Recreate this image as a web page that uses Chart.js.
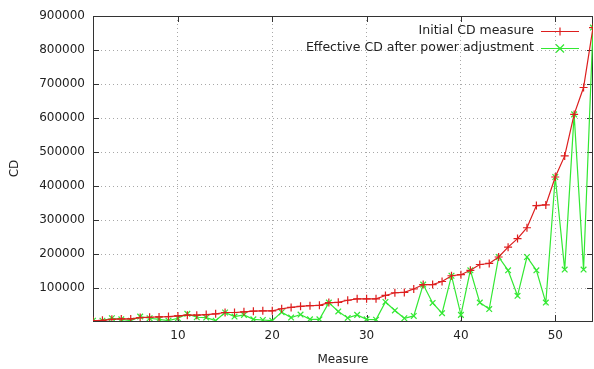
<!DOCTYPE html>
<html><head><meta charset="utf-8">
<script src="https://cdn.jsdelivr.net/npm/chart.js@4/dist/chart.umd.min.js"></script>
<style>html,body{margin:0;padding:0;background:#fff;}#wrap{width:594px;height:369px;}</style>
</head><body><div id="wrap"><canvas id="c" width="594" height="369"></canvas></div>
<script>
const measures = [1,2,3,4,5,6,7,8,9,10,11,12,13,14,15,16,17,18,19,20,21,22,23,24,25,26,27,28,29,30,31,32,33,34,35,36,37,38,39,40,41,42,43,44,45,46,47,48,49,50,51,52,53,54];
const initialCD = [5000,6000,9000,10000,10000,14000,15000,16000,17000,19000,21000,21000,23000,25000,29000,29000,31000,33000,34000,34000,40000,44000,47000,49000,50000,58000,59000,65000,69000,69000,69000,79000,87000,88000,98000,111000,111000,120000,137000,140000,153000,170000,173000,192000,221000,246000,278000,343000,345000,427000,489000,611000,690000,866000];
const effectiveCD = [5000,5000,12000,9000,5000,17000,12000,9000,5000,12000,25000,15000,14000,5000,29000,17000,22000,9000,7000,5000,30000,14000,23000,9000,9000,58000,32000,13000,22000,9000,8000,60000,35000,12000,19000,111000,57000,27000,137000,22000,153000,58000,39000,192000,153000,78000,192000,153000,58000,427000,155000,611000,155000,866000];
const seriesLabels = ["Initial CD measure", "Effective CD after power adjustment"];
const xTicks = [10,20,30,40,50];
const yTicks = [100000,200000,300000,400000,500000,600000,700000,800000,900000];

const RED = '#dd1e1e', GREEN = '#33e833';
const FONT = {family: "'DejaVu Sans', sans-serif", size: 12};
const TXT = '#222';

function pts(arr){ return measures.map((m,i)=>({x:m,y:arr[i]})); }

function drawMark(ctx, style, x, y, r){
  ctx.beginPath();
  if(style==='cross'){ ctx.moveTo(x-r,y); ctx.lineTo(x+r,y); ctx.moveTo(x,y-r); ctx.lineTo(x,y+r); }
  else { ctx.moveTo(x-r,y-r); ctx.lineTo(x+r,y+r); ctx.moveTo(x-r,y+r); ctx.lineTo(x+r,y-r); }
  ctx.stroke();
}

const framePlugin = {
  id:'frame',
  beforeDatasetsDraw(chart){
    const {ctx, chartArea:a, scales} = chart;
    ctx.save();
    ctx.strokeStyle = '#333'; ctx.lineWidth = 1;
    ctx.strokeRect(a.left+0.5, a.top+0.5, a.right-a.left-1, a.bottom-a.top);
    const tl = 6;
    ctx.beginPath();
    xTicks.forEach(v=>{ const x = Math.round(scales.x.getPixelForValue(v))+0.5;
      ctx.moveTo(x,a.bottom); ctx.lineTo(x,a.bottom-tl);
      ctx.moveTo(x,a.top); ctx.lineTo(x,a.top+tl); });
    yTicks.forEach(v=>{ const y = Math.round(scales.y.getPixelForValue(v))+0.5;
      ctx.moveTo(a.left,y); ctx.lineTo(a.left+tl,y);
      ctx.moveTo(a.right,y); ctx.lineTo(a.right-tl,y); });
    ctx.stroke();
    ctx.restore();
  },
  afterDraw(chart){
    const {ctx} = chart;
    ctx.save();
    ctx.font = "12.5px 'DejaVu Sans', sans-serif";
    ctx.fillStyle = TXT; ctx.textAlign='right'; ctx.textBaseline='middle';
    chart.data.datasets.forEach((ds,i)=>{
      const y = 31 + i*17;
      ctx.fillText(ds.label, 534, y);
      ctx.strokeStyle = ds.borderColor; ctx.lineWidth = 1.2;
      ctx.beginPath(); ctx.moveTo(541,y+0.5); ctx.lineTo(579,y+0.5); ctx.stroke();
      drawMark(ctx, ds.pointStyle, 560, y+0.5, 4);
    });
    ctx.restore();
  }
};

new Chart(document.getElementById('c'), {
  type:'line',
  data:{datasets:[
    {label:seriesLabels[0], data:pts(initialCD), borderColor:RED, backgroundColor:RED, borderWidth:1.2, pointStyle:'cross', pointRadius:4, pointBorderWidth:1.2, pointBorderColor:RED, tension:0, fill:false},
    {label:seriesLabels[1], data:pts(effectiveCD), borderColor:GREEN, backgroundColor:GREEN, borderWidth:1.2, pointStyle:'crossRot', pointRadius:4, pointBorderWidth:1.2, pointBorderColor:GREEN, tension:0, fill:false}
  ]},
  options:{
    responsive:false, animation:false, devicePixelRatio:1,
    layout:{autoPadding:false, padding:{top:16,right:1,left:0,bottom:0}},
    plugins:{legend:{display:false}, tooltip:{enabled:false}},
    scales:{
      x:{type:'linear', min:1, max:54,
        afterBuildTicks:s=>{s.ticks = xTicks.map(v=>({value:v}));},
        afterFit:s=>{s.height=48; s.paddingLeft=0; s.paddingRight=0;},
        grid:{color:'#a8a8a8', drawTicks:false, lineWidth:1},
        border:{display:false, dash:[1,3]},
        ticks:{padding:8, color:TXT, font:FONT, maxRotation:0, autoSkip:false},
        title:{display:true, text:'Measure', color:TXT, font:FONT, padding:{top:0,bottom:2}}
      },
      y:{type:'linear', min:4000, max:900000,
        afterBuildTicks:s=>{s.ticks = yTicks.map(v=>({value:v}));},
        afterFit:s=>{s.width=93; s.paddingTop=0; s.paddingBottom=0;},
        grid:{color:'#a8a8a8', drawTicks:false, lineWidth:1},
        border:{display:false, dash:[1,3]},
        ticks:{padding:8, color:TXT, font:FONT, autoSkip:false, callback:v=>String(v)},
        title:{display:true, text:'CD', color:TXT, font:FONT, padding:{top:8,bottom:0}}
      }
    }
  },
  plugins:[framePlugin]
});
</script>
</body></html>
